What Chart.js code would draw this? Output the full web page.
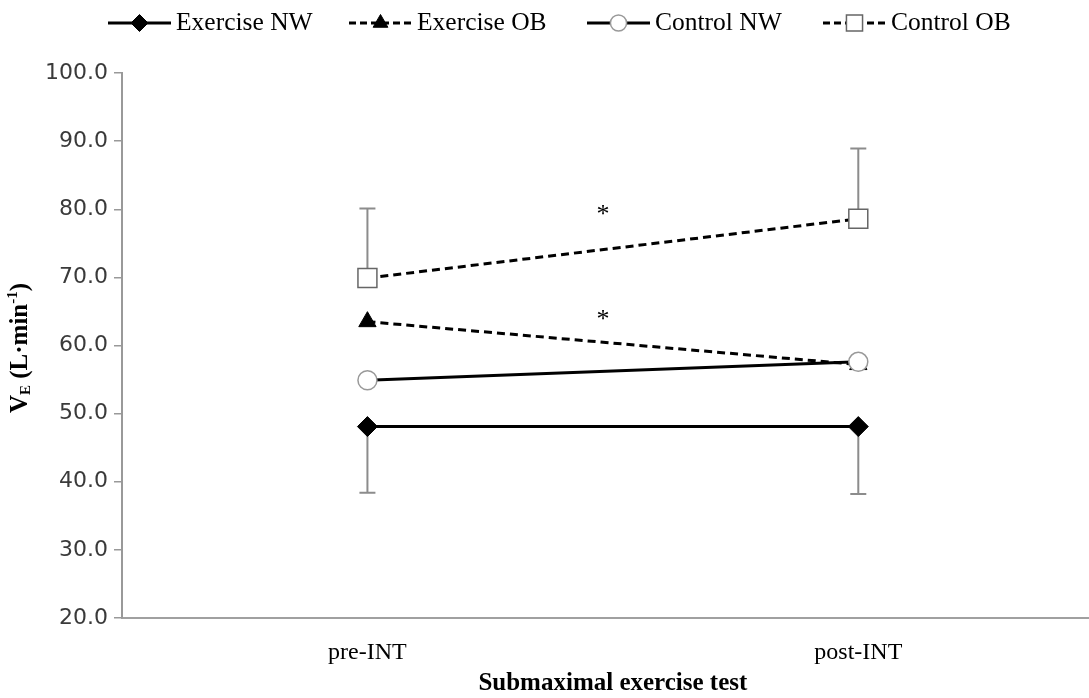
<!DOCTYPE html>
<html>
<head>
<meta charset="utf-8">
<script src="https://cdn.jsdelivr.net/npm/chart.js@4/dist/chart.umd.min.js"></script>
<style>
  html, body { margin: 0; padding: 0; background: #fff; overflow: hidden; }
  #c { width: 1089px; height: 698px; display: block; }
</style>
</head>
<body>
<canvas id="c" width="1089" height="698"></canvas>
<script>
// Time points of the submaximal exercise test
const categories = ['pre-INT', 'post-INT'];

// Mean ventilation (L·min-1) per group
const exerciseNW = [48.1, 48.1];
const exerciseOB = [63.5, 57.2];
const controlNW  = [54.9, 57.6];
const controlOB  = [69.9, 78.6];

// One-sided standard deviations shown as error bars
const exerciseNWsdDown = [9.7, 9.9];
const controlOBsdUp    = [10.2, 10.3];

// Significance markers: [x index position, y value]
const asteriskMarks = [[0.48, 79.8], [0.48, 64.5]];

// Axis ranges (x in category-index units; the plot runs past the right edge)
const yMin = 20, yMax = 100, yStep = 10;
const xMin = -0.5, xMax = 1.47;

const serif = '"Liberation Serif", "Times New Roman", serif';

const toPoints = vals => vals.map((v, i) => ({ x: i, y: v }));

const datasets = [
  { label: 'Exercise NW', data: toPoints(exerciseNW), borderColor: '#000', borderWidth: 3, borderDash: [],
    pointStyle: 'rectRot', pointRadius: 10, pointBackgroundColor: '#000', pointBorderColor: '#000', pointBorderWidth: 1, order: 1 },
  { label: 'Exercise OB', data: toPoints(exerciseOB), borderColor: '#000', borderWidth: 3, borderDash: [8, 5],
    pointStyle: 'triangle', pointRadius: 10, pointBackgroundColor: '#000', pointBorderColor: '#000', pointBorderWidth: 1, order: 2 },
  { label: 'Control NW', data: toPoints(controlNW), borderColor: '#000', borderWidth: 3, borderDash: [],
    pointStyle: 'circle', pointRadius: 9.5, pointBackgroundColor: '#fff', pointBorderColor: '#999', pointBorderWidth: 1.5, order: 0 },
  { label: 'Control OB', data: toPoints(controlOB), borderColor: '#000', borderWidth: 3, borderDash: [8, 5],
    pointStyle: 'rect', pointRadius: 13.4, pointBackgroundColor: '#fff', pointBorderColor: '#666', pointBorderWidth: 1.5, order: 1 }
];
datasets.forEach(d => { d.fill = false; d.tension = 0; d.pointHoverRadius = d.pointRadius; });

// Error bars drawn beneath the markers
const errorBars = {
  id: 'errorBars',
  beforeDatasetsDraw(chart) {
    const { ctx, scales: { x, y } } = chart;
    ctx.save();
    ctx.strokeStyle = '#8c8c8c';
    ctx.lineWidth = 2;
    const cap = 8;
    const draw = (vals, sds, dir) => {
      vals.forEach((v, i) => {
        const px = x.getPixelForValue(i);
        const py0 = y.getPixelForValue(v);
        const py1 = y.getPixelForValue(v + dir * sds[i]);
        ctx.beginPath();
        ctx.moveTo(px, py0); ctx.lineTo(px, py1);
        ctx.moveTo(px - cap, py1); ctx.lineTo(px + cap, py1);
        ctx.stroke();
      });
    };
    draw(exerciseNW, exerciseNWsdDown, -1);
    draw(controlOB, controlOBsdUp, 1);
    ctx.restore();
  }
};

// Legend, axis titles and asterisks
const legendStarts = [108, 349, 587, 823];
const decorations = {
  id: 'decorations',
  afterDraw(chart) {
    const { ctx, scales: { x, y } } = chart;
    ctx.save();

    // Legend
    ctx.font = '25.5px ' + serif;
    ctx.textBaseline = 'middle';
    ctx.fillStyle = '#000';
    const ly = 23, seg = 63;
    datasets.forEach((d, k) => {
      const lx = legendStarts[k];
      ctx.save();
      ctx.strokeStyle = '#000';
      ctx.lineWidth = 3;
      ctx.setLineDash(d.borderDash.length ? [7, 4] : []);
      ctx.beginPath(); ctx.moveTo(lx, ly); ctx.lineTo(lx + seg, ly); ctx.stroke();
      ctx.setLineDash([]);
      ctx.fillStyle = d.pointBackgroundColor;
      ctx.strokeStyle = d.pointBorderColor;
      ctx.lineWidth = d.pointBorderWidth;
      Chart.helpers.drawPoint(ctx, { pointStyle: d.pointStyle, radius: d.pointRadius * 0.85, rotation: 0, borderWidth: d.pointBorderWidth }, lx + seg / 2, ly);
      ctx.restore();
      ctx.fillText(d.label, lx + seg + 5, ly);
    });

    // X axis title
    ctx.textAlign = 'center';
    ctx.font = 'bold 25px ' + serif;
    ctx.fillText('Submaximal exercise test', x.getPixelForValue(0.5), 684);

    // Asterisks
    ctx.font = '26px ' + serif;
    asteriskMarks.forEach(([xi, yv]) => {
      ctx.fillText('*', x.getPixelForValue(xi), y.getPixelForValue(yv) + 5);
    });

    // Y axis title with subscript and superscript
    ctx.translate(21, 348);
    ctx.rotate(-Math.PI / 2);
    const parts = [
      { t: 'V', f: 'bold 25px ' + serif, dy: 0 },
      { t: 'E', f: 'bold 15px ' + serif, dy: 5 },
      { t: ' (L·min', f: 'bold 25px ' + serif, dy: 0 },
      { t: '-1', f: 'bold 15px ' + serif, dy: -8 },
      { t: ')', f: 'bold 25px ' + serif, dy: 0 }
    ];
    let total = 0;
    parts.forEach(p => { ctx.font = p.f; p.w = ctx.measureText(p.t).width; total += p.w; });
    let tx = -total / 2;
    ctx.textAlign = 'left';
    parts.forEach(p => { ctx.font = p.f; ctx.fillText(p.t, tx, p.dy); tx += p.w; });
    ctx.restore();
  }
};

new Chart(document.getElementById('c'), {
  type: 'line',
  data: { datasets },
  options: {
    responsive: false,
    maintainAspectRatio: false,
    animation: false,
    events: [],
    layout: { autoPadding: false, padding: { top: 73, right: 0, bottom: 0, left: 0 } },
    plugins: { legend: { display: false }, tooltip: { enabled: false } },
    scales: {
      x: {
        type: 'linear',
        min: xMin, max: xMax,
        afterBuildTicks(s) { s.ticks = categories.map((c, i) => ({ value: i })); },
        grid: { display: false, drawTicks: false },
        border: { color: '#a0a0a0', width: 2 },
        ticks: { font: { family: serif, size: 24 }, color: '#000', padding: 20,
                 callback: v => categories[v] },
        afterFit(s) { s.height = 80; s.paddingLeft = 0; s.paddingRight = 0; }
      },
      y: {
        min: yMin, max: yMax,
        ticks: { stepSize: yStep, callback: v => Number(v).toFixed(1),
                 font: { family: '"DejaVu Sans", sans-serif', size: 22 }, color: '#3a3a3a', padding: 6 },
        grid: { drawOnChartArea: false, tickLength: 8, color: '#999', lineWidth: 1.5 },
        border: { color: '#999', width: 2 },
        afterFit(s) { s.width = 122; }
      }
    }
  },
  plugins: [errorBars, decorations]
});
</script>
</body>
</html>
